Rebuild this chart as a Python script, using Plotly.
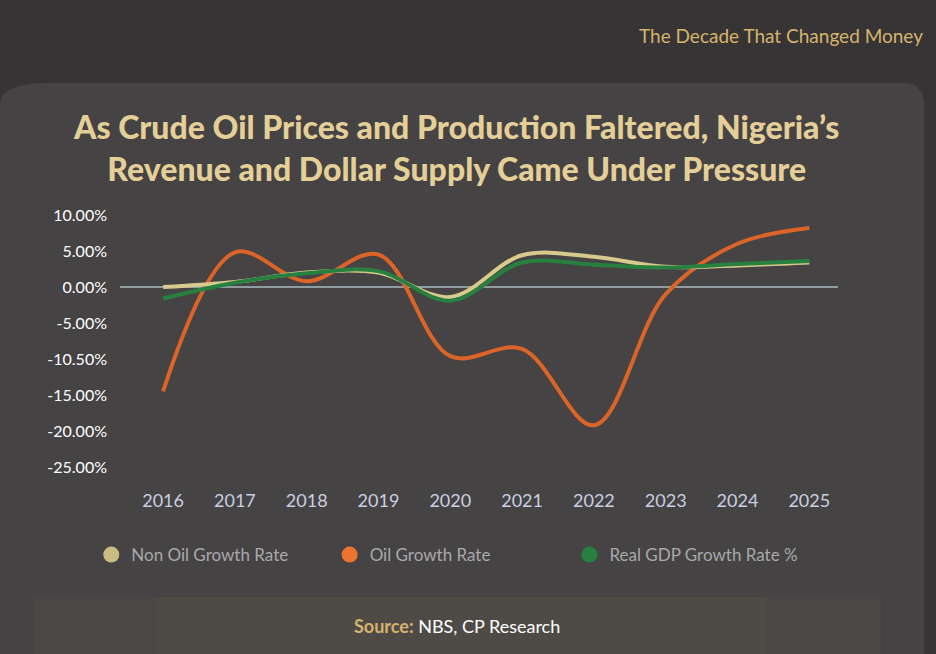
import plotly.graph_objects as go

years = [2016, 2017, 2018, 2019, 2020, 2021, 2022, 2023, 2024, 2025]
non_oil = [0.0, 0.7, 2.0, 2.0, -1.4, 4.4, 4.2, 2.8, 3.0, 3.4]
oil = [-14.5, 4.8, 0.8, 4.5, -9.6, -8.6, -19.2, -1.0, 6.0, 8.2]
gdp = [-1.6, 0.6, 1.9, 2.2, -1.9, 3.4, 3.1, 2.7, 3.2, 3.6]
tick_vals = [10, 5, 0, -5, -10, -15, -20, -25]
tick_text = ["10.00%", "5.00%", "0.00%", "-5.00%", "-10.50%", "-15.00%", "-20.00%", "-25.00%"]

c_non, c_oil, c_gdp = "#d8c98c", "#dd6428", "#27803f"
fig = go.Figure()
fig.add_trace(go.Scatter(x=[2015.4, 2025.4], y=[0, 0], mode="lines",
                         line=dict(color="#8f9da1", width=2), showlegend=False, hoverinfo="skip"))
for name, ys, c in [("Oil Growth Rate", oil, c_oil), ("Non Oil Growth Rate", non_oil, c_non),
                    ("Real GDP Growth Rate %", gdp, c_gdp)]:
    fig.add_trace(go.Scatter(x=years, y=ys, mode="lines", line=dict(color=c, width=4, shape="spline", smoothing=1.0),
                             showlegend=False, name=name))
for name, c, lg in [("Non Oil Growth Rate", "#c9bd83", "legend"), ("Oil Growth Rate", "#ec7430", "legend2"),
                    ("Real GDP Growth Rate %", c_gdp, "legend3")]:
    fig.add_trace(go.Scatter(x=[None], y=[None], mode="markers", name=name, legend=lg,
                             marker=dict(color=c, size=24, symbol="circle")))

leg = dict(orientation="h", y=-0.268, yanchor="middle", xanchor="left",
           font=dict(size=17, color="#a9a9a9"), itemsizing="trace", bgcolor="rgba(0,0,0,0)")
fig.update_layout(
    width=936, height=654,
    paper_bgcolor="#363435", plot_bgcolor="rgba(0,0,0,0)",
    margin=dict(l=120, r=98, t=200, b=174),
    font=dict(family="Lato", color="#ffffff"),
    xaxis=dict(range=[2015.4, 2025.4], tickvals=years, showgrid=False, zeroline=False, showline=False,
               tickfont=dict(size=18, color="#c9cfe0"), ticks="", ticklabelstandoff=8),
    yaxis=dict(range=[-26.8, 12.08], tickvals=tick_vals, ticktext=tick_text, showgrid=False, zeroline=False,
               tickfont=dict(size=16, color="#ffffff"), ticks="", ticklabelstandoff=12),
    legend=dict(leg, x=-0.04), legend2=dict(leg, x=0.292), legend3=dict(leg, x=0.626),
    shapes=[
        dict(type="path", xref="paper", yref="paper", layer="below",
             path="M -0.1672,-0.63 L -0.1672,1.34 Q -0.1672,1.418 -0.1,1.418 L 1.09,1.418 Q 1.12,1.418 1.12,1.34 L 1.12,-0.63 Z",
             fillcolor="#454344", line=dict(width=0)),
        dict(type="rect", xref="paper", yref="paper", layer="below",
             x0=-0.12, x1=1.06, y0=-0.63, y1=-0.418, fillcolor="#4a4745", line=dict(width=0)),
        dict(type="rect", xref="paper", yref="paper", layer="below",
             x0=0.05, x1=0.9, y0=-0.63, y1=-0.418, fillcolor="#4e4b47", line=dict(width=0)),
    ],
    annotations=[
        dict(text="The Decade That Changed Money", xref="paper", yref="paper", x=1.121, y=1.589,
             xanchor="right", yanchor="middle", showarrow=False, font=dict(size=19, color="#d6b36c")),
        dict(text="As Crude Oil Prices and Production Faltered, Nigeria’s<br>Revenue and Dollar Supply Came Under Pressure",
             xref="paper", yref="paper", x=0.469, y=1.186, xanchor="center", yanchor="middle", showarrow=False,
             font=dict(size=32, color="#e3cf97", weight=900), align="center"),
        dict(text="<b><span style='color:#d6b36c'>Source:</span></b> NBS, CP Research", xref="paper", yref="paper",
             x=0.469, y=-0.521, xanchor="center", yanchor="middle", showarrow=False,
             font=dict(size=18, color="#ffffff")),
    ],
)
fig.write_html("out.html", config={"displayModeBar": False},
               post_script="document.body.style.margin='0';window.dispatchEvent(new Event('resize'));")
